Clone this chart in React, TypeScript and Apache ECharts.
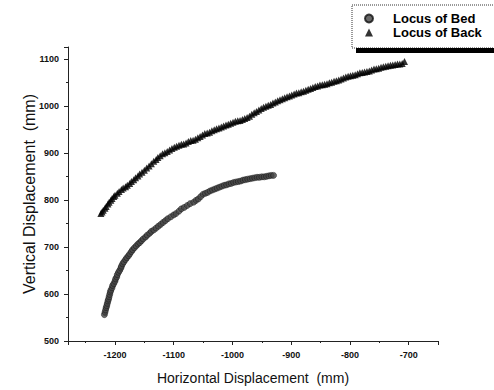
import React, { useEffect, useRef } from "react";
import * as echarts from "echarts";

const seriesNames = ["Locus of Bed", "Locus of Back"];

const bedX = [-1218, -1217, -1216, -1215, -1214, -1213, -1212, -1211, -1210, -1209, -1208, -1207, -1205, -1204, -1202, -1200, -1199, -1197, -1196, -1194, -1192, -1190, -1189, -1187, -1185, -1182, -1180, -1177, -1175, -1172, -1170, -1167, -1164, -1161, -1158, -1155, -1152, -1148, -1145, -1141, -1138, -1134, -1130, -1126, -1122, -1118, -1114, -1110, -1105, -1100, -1096, -1091, -1087, -1082, -1077, -1072, -1066, -1062, -1058, -1054, -1050, -1046, -1042, -1038, -1034, -1030, -1026, -1022, -1018, -1014, -1010, -1006, -1002, -998, -994, -990, -986, -982, -978, -974, -970, -966, -962, -958, -954, -950, -946, -942, -938, -934, -930];
const bedY = [556, 561, 566, 571, 575, 580, 585, 589, 594, 599, 604, 608, 613, 618, 622, 627, 632, 636, 641, 646, 650, 655, 659, 664, 668, 673, 677, 681, 685, 690, 694, 698, 702, 706, 709, 713, 717, 721, 725, 729, 733, 736, 740, 744, 748, 752, 756, 760, 764, 768, 771, 776, 781, 784, 788, 792, 795, 799, 802, 807, 812, 814, 816, 819, 821, 823, 825, 827, 829, 831, 832, 834, 835, 837, 838, 839, 840, 842, 843, 844, 845, 846, 847, 848, 848, 849, 849, 850, 851, 852, 852];

const backX = [-1224, -1222, -1220, -1217, -1215, -1212, -1210, -1207, -1205, -1202, -1200, -1196, -1193, -1189, -1186, -1182, -1179, -1175, -1172, -1168, -1165, -1161, -1158, -1154, -1150, -1146, -1142, -1138, -1134, -1130, -1127, -1123, -1119, -1115, -1111, -1107, -1103, -1099, -1095, -1091, -1087, -1083, -1079, -1075, -1071, -1067, -1063, -1059, -1055, -1051, -1047, -1043, -1039, -1035, -1031, -1027, -1023, -1019, -1015, -1011, -1007, -1003, -999, -995, -991, -987, -983, -979, -975, -971, -967, -963, -959, -955, -951, -947, -943, -939, -935, -931, -927, -923, -919, -915, -911, -907, -903, -899, -895, -891, -887, -883, -879, -875, -871, -867, -863, -859, -855, -851, -847, -843, -839, -835, -831, -827, -823, -819, -815, -811, -807, -803, -799, -795, -791, -787, -783, -779, -775, -771, -767, -763, -759, -755, -751, -747, -743, -739, -735, -731, -727, -723, -719, -715, -711, -707];
const backY = [771, 774, 778, 782, 786, 791, 795, 799, 803, 807, 810, 814, 818, 822, 825, 828, 831, 835, 839, 843, 847, 851, 855, 859, 863, 868, 872, 877, 882, 886, 890, 894, 898, 900, 903, 906, 909, 912, 914, 916, 918, 919, 921, 924, 926, 927, 929, 932, 935, 938, 941, 942, 944, 947, 949, 951, 953, 955, 957, 959, 961, 963, 965, 967, 968, 969, 971, 973, 975, 978, 982, 985, 988, 991, 994, 997, 999, 1001, 1003, 1006, 1008, 1011, 1013, 1015, 1017, 1019, 1021, 1023, 1025, 1027, 1028, 1030, 1031, 1033, 1035, 1037, 1039, 1041, 1042, 1044, 1045, 1046, 1047, 1049, 1050, 1052, 1053, 1055, 1057, 1059, 1061, 1063, 1064, 1065, 1066, 1068, 1070, 1071, 1072, 1073, 1074, 1076, 1078, 1079, 1080, 1082, 1083, 1084, 1085, 1086, 1087, 1088, 1089, 1089, 1090, 1094];

const xRange = [-1280, -650];
const yRange = [500, 1125];

const FONT = "'Liberation Sans', Arial, sans-serif";

export default function App() {
  const ref = useRef<HTMLDivElement>(null);
  useEffect(() => {
    if (!ref.current) return;
    const chart = echarts.init(ref.current, undefined, { renderer: "svg" });
    const bed = bedX.map((x, i) => [x, bedY[i]]);
    const back = backX.map((x, i) => [x, backY[i]]);
    const axisCommon = {
      axisLine: { show: true, lineStyle: { color: "#222", width: 1 } },
      axisTick: { show: true, inside: false, length: 4, lineStyle: { color: "#222" } },
      minorTick: { show: true, splitNumber: 2, length: 2, lineStyle: { color: "#222" } },
      splitLine: { show: false },
    };
    chart.setOption({
      animation: false,
      backgroundColor: "#fff",
      grid: { left: 68, right: 56, top: 47, bottom: 47 },
      legend: {
        orient: "vertical",
        left: 364,
        top: 12,
        padding: 0,
        itemWidth: 8,
        itemHeight: 8,
        itemGap: 1,
        textStyle: { fontFamily: FONT, fontSize: 13, fontWeight: "bold", color: "#000", padding: [0, 0, 0, 15] },
        data: [
          { name: seriesNames[0], icon: "circle" },
          { name: seriesNames[1], icon: "triangle" },
        ],
      },
      graphic: [
        {
          type: "rect",
          shape: { x: 352, y: 5, width: 150, height: 43 },
          style: { fill: "none", stroke: "#333", lineWidth: 1, lineDash: [1, 1] },
          silent: true,
        },
        {
          type: "rect",
          shape: { x: 356, y: 48, width: 140, height: 5 },
          style: { fill: "#000" },
          silent: true,
        },
      ],
      xAxis: {
        type: "value",
        min: xRange[0],
        max: xRange[1],
        splitNumber: 6,
        name: "Horizontal Displacement  (mm)",
        nameLocation: "middle",
        nameGap: 30,
        nameMoveOverlap: false,
        nameTextStyle: { fontFamily: FONT, fontSize: 14, color: "#111" },
        ...axisCommon,
        axisLabel: {
          margin: 9,
          fontFamily: FONT,
          fontSize: 9,
          fontWeight: "bold",
          color: "#111",
          formatter: (v: number) => (v % 100 === 0 ? String(v) : ""),
        },
      },
      yAxis: {
        type: "value",
        min: yRange[0],
        max: yRange[1],
        splitNumber: 6,
        name: "Vertical Displacement  (mm)",
        nameLocation: "middle",
        nameGap: 31,
        nameMoveOverlap: false,
        nameTextStyle: { fontFamily: FONT, fontSize: 16, color: "#111" },
        ...axisCommon,
        axisLabel: {
          margin: 9,
          fontFamily: FONT,
          fontSize: 9,
          fontWeight: "bold",
          color: "#111",
          formatter: (v: number) => (v % 100 === 0 ? String(v) : ""),
        },
      },
      series: [
        {
          name: seriesNames[0],
          type: "scatter",
          symbol: "circle",
          symbolSize: 6,
          data: bed,
          itemStyle: { color: "#444", borderColor: "#111", borderWidth: 0.6 },
        },
        {
          name: seriesNames[1],
          type: "scatter",
          symbol: "triangle",
          symbolSize: 7,
          data: back,
          itemStyle: { color: "#000" },
        },
      ],
    });
    return () => chart.dispose();
  }, []);
  return <div ref={ref} style={{ position: "fixed", left: 0, top: 0, width: 494, height: 390 }} />;
}
